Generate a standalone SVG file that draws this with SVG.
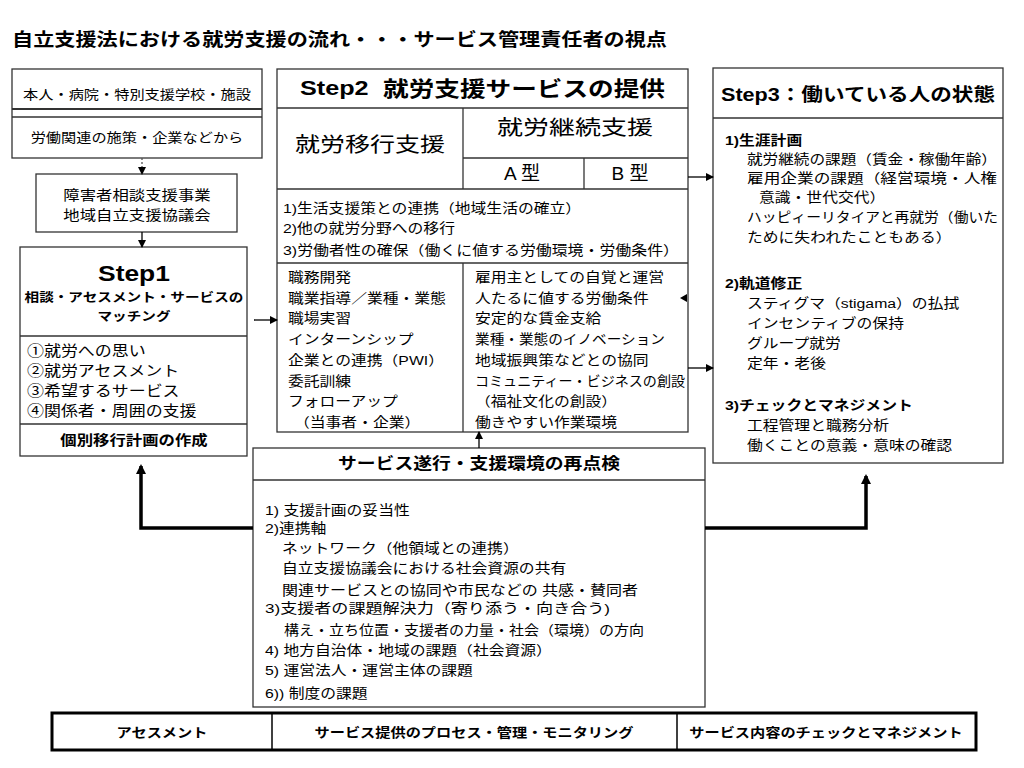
<svg xmlns="http://www.w3.org/2000/svg" width="1024" height="768" viewBox="0 0 1024 768">
<defs>
<style>
text{font-family:"Liberation Sans","Noto Sans CJK JP",sans-serif;fill:#000;font-size:13.5px;dominant-baseline:central;transform-box:fill-box;transform-origin:left center;transform:scaleX(1.17)}
.c{text-anchor:middle;transform-origin:center}
.b{font-weight:bold}
.n{transform:none}
.s13{font-size:13px}
.s14{font-size:14px}
.s145{font-size:14.5px}
.box{fill:#fff;stroke:#333;stroke-width:1.3}
.ln{stroke:#333;stroke-width:1.3;fill:none}
.arr{stroke:#000;stroke-width:1.3;fill:none;marker-end:url(#ah)}
.dot{stroke:#555;stroke-width:1.3;fill:none;stroke-dasharray:2 2;marker-end:url(#ah)}
.thick{stroke:#000;stroke-width:3.5;fill:none;marker-end:url(#ahb)}
</style>
<marker id="ah" markerUnits="userSpaceOnUse" markerWidth="8" markerHeight="8" refX="7" refY="4" orient="auto"><path d="M0,0 L8,4 L0,8 z" fill="#000"/></marker>
<marker id="ahb" markerUnits="userSpaceOnUse" markerWidth="10" markerHeight="12" refX="8" refY="5" orient="auto"><path d="M0,0 L10,5 L0,10 z" fill="#000"/></marker>
</defs>
<rect width="1024" height="768" fill="#fff"/>

<text id="title" class="b n" x="12" y="40" style="font-size:18px" textLength="655" lengthAdjust="spacingAndGlyphs">自立支援法における就労支援の流れ・・・サービス管理責任者の視点</text>

<g id="source">
<rect class="box" x="12" y="69" width="250" height="89"/>
<line class="ln" x1="12" y1="109" x2="262" y2="109" style="stroke-width:1.8"/>
<line class="ln" x1="12" y1="117" x2="262" y2="117"/>
<text class="c s13" x="137" y="94">本人・病院・特別支援学校・施設</text>
<text class="c s13" x="137" y="137">労働関連の施策・企業などから</text>
</g>

<g id="consult">
<rect class="box" x="36" y="174" width="201" height="58"/>
<text class="c s14" x="137" y="195">障害者相談支援事業</text>
<text class="c s14" x="137" y="215">地域自立支援協議会</text>
</g>

<g id="step1">
<rect class="box" x="20" y="247" width="227" height="209"/>
<line class="ln" x1="20" y1="336" x2="247" y2="336"/>
<line class="ln" x1="20" y1="424" x2="247" y2="424"/>
<text class="c b" x="134" y="273" style="font-size:22px;transform:scaleX(1.2)">Step1</text>
<text class="c b" x="134" y="298" style="font-size:12.5px">相談・アセスメント・サービスの</text>
<text class="c b" x="134" y="317" style="font-size:12.5px">マッチング</text>
<text class="s145" x="27" y="351">①就労への思い</text>
<text class="s145" x="27" y="371">②就労アセスメント</text>
<text class="s145" x="27" y="391">③希望するサービス</text>
<text class="s145" x="27" y="411">④関係者・周囲の支援</text>
<text class="c b s14" x="134" y="440">個別移行計画の作成</text>
</g>

<g id="step2">
<rect class="box" x="277" y="69" width="411" height="363"/>
<line class="ln" x1="277" y1="108" x2="688" y2="108"/>
<line class="ln" x1="463" y1="108" x2="463" y2="189"/>
<line class="ln" x1="463" y1="158" x2="688" y2="158"/>
<line class="ln" x1="584" y1="158" x2="584" y2="189"/>
<line class="ln" x1="277" y1="189" x2="688" y2="189"/>
<line class="ln" x1="277" y1="263" x2="688" y2="263"/>
<line class="ln" x1="463" y1="263" x2="463" y2="432"/>
<text class="b" x="300" y="88" style="font-size:21px;transform:scaleX(1.2)">Step2</text>
<text class="b n" x="383" y="88" style="font-size:21px" textLength="282" lengthAdjust="spacingAndGlyphs">就労支援サービスの提供</text>
<text class="n" x="295" y="145" style="font-size:20px" textLength="150" lengthAdjust="spacingAndGlyphs">就労移行支援</text>
<text class="n" x="497" y="128" style="font-size:20px" textLength="156" lengthAdjust="spacingAndGlyphs">就労継続支援</text>
<text class="c n" x="522" y="173" style="font-size:19px">A 型</text>
<text class="c n" x="630" y="173" style="font-size:19px">B 型</text>
<text x="283" y="208">1)生活支援策との連携（地域生活の確立）</text>
<text x="283" y="228">2)他の就労分野への移行</text>
<text class="n" x="283" y="250" textLength="396" lengthAdjust="spacingAndGlyphs">3)労働者性の確保（働くに値する労働環境・労働条件）</text>
<text x="288" y="277">職務開発</text>
<text x="288" y="298">職業指導／業種・業態</text>
<text x="288" y="318">職場実習</text>
<text x="288" y="339">インターンシップ</text>
<text x="288" y="360">企業との連携（PWI）</text>
<text x="288" y="381">委託訓練</text>
<text x="288" y="401">フォローアップ</text>
<text x="294" y="422">（当事者・企業）</text>
<text x="475" y="277">雇用主としての自覚と運営</text>
<text x="475" y="298">人たるに値する労働条件</text>
<text x="475" y="318">安定的な賃金支給</text>
<text class="n" x="475" y="339" textLength="190" lengthAdjust="spacingAndGlyphs">業種・業態のイノベーション</text>
<text x="475" y="360">地域振興策などとの協同</text>
<text class="n" x="475" y="381" textLength="210" lengthAdjust="spacingAndGlyphs">コミュニティー・ビジネスの創設</text>
<text x="475" y="401">（福祉文化の創設）</text>
<text x="475" y="422">働きやすい作業環境</text>
<polygon points="680,298 687,294 687,302" fill="#000"/>
</g>

<g id="step3">
<rect class="box" x="713" y="68" width="290" height="395"/>
<line class="ln" x1="713" y1="118" x2="1003" y2="118"/>
<text class="b n" x="721" y="95" style="font-size:18px" textLength="274" lengthAdjust="spacingAndGlyphs">Step3：働いている人の状態</text>
<text class="b" x="725" y="140">1)生涯計画</text>
<text class="n" x="747" y="159" textLength="250" lengthAdjust="spacingAndGlyphs">就労継続の課題（賃金・稼働年齢）</text>
<text class="n" x="747" y="178" textLength="250" lengthAdjust="spacingAndGlyphs">雇用企業の課題（経営環境・人権</text>
<text x="759" y="197">意識・世代交代）</text>
<text class="n" x="747" y="217" textLength="251" lengthAdjust="spacingAndGlyphs">ハッピィーリタイアと再就労（働いた</text>
<text x="747" y="237">ために失われたこともある）</text>
<text class="b" x="725" y="283">2)軌道修正</text>
<text x="747" y="303">スティグマ（stigama）の払拭</text>
<text x="747" y="323">インセンティブの保持</text>
<text x="747" y="343">グループ就労</text>
<text x="747" y="363">定年・老後</text>
<text class="b" x="725" y="405">3)チェックとマネジメント</text>
<text x="747" y="425">工程管理と職務分析</text>
<text x="747" y="445">働くことの意義・意味の確認</text>
</g>

<g id="review">
<rect class="box" x="253" y="448" width="452" height="259"/>
<line class="ln" x1="253" y1="480" x2="705" y2="480"/>
<text class="b n" x="338" y="463" style="font-size:16px" textLength="282" lengthAdjust="spacingAndGlyphs">サービス遂行・支援環境の再点検</text>
<text x="265" y="510">1) 支援計画の妥当性</text>
<text x="265" y="528">2)連携軸</text>
<text x="282" y="548">ネットワーク（他領域との連携）</text>
<text x="282" y="568">自立支援協議会における社会資源の共有</text>
<text class="n" x="282" y="590" textLength="356" lengthAdjust="spacingAndGlyphs">関連サービスとの協同や市民などの 共感・賛同者</text>
<text class="n" x="265" y="608" textLength="345" lengthAdjust="spacingAndGlyphs">3)支援者の課題解決力（寄り添う・向き合う)</text>
<text class="n" x="284" y="630" textLength="360" lengthAdjust="spacingAndGlyphs">構え・立ち位置・支援者の力量・社会（環境）の方向</text>
<text x="265" y="650">4) 地方自治体・地域の課題（社会資源）</text>
<text x="265" y="670">5) 運営法人・運営主体の課題</text>
<text x="265" y="693">6)) 制度の課題</text>
</g>

<g id="phases">
<rect x="52" y="713" width="924" height="37" fill="#fff" stroke="#000" stroke-width="3"/>
<line x1="272" y1="713" x2="272" y2="750" stroke="#000" stroke-width="1.5"/>
<line x1="677" y1="713" x2="677" y2="750" stroke="#000" stroke-width="1.5"/>
<text class="c b s13" x="162" y="732">アセスメント</text>
<text class="c b s13" x="474" y="732">サービス提供のプロセス・管理・モニタリング</text>
<text class="c b s13" x="826" y="732">サービス内容のチェックとマネジメント</text>
</g>

<g id="connectors">
<line class="dot" x1="142" y1="158" x2="142" y2="174"/>
<line class="arr" x1="142" y1="232" x2="142" y2="247"/>
<line class="arr" x1="254" y1="320" x2="277" y2="320"/>
<line class="arr" x1="688" y1="177" x2="713" y2="177"/>
<line class="arr" x1="688" y1="368" x2="713" y2="368"/>
<line class="arr" x1="479" y1="448" x2="479" y2="432"/>
<polyline class="thick" points="253,528 141,528 141,466"/>
<polyline class="thick" points="705,528 866,528 866,476"/>
</g>
</svg>
